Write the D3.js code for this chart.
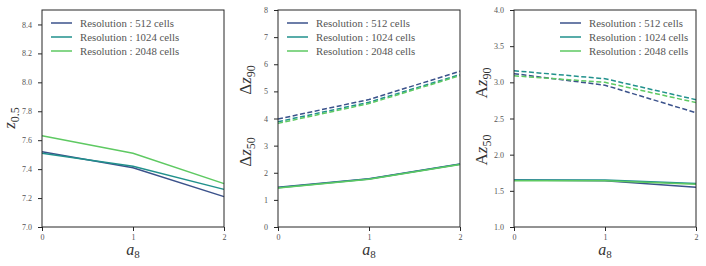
<!DOCTYPE html>
<html>
<head>
<meta charset="utf-8">
<script src="https://cdn.jsdelivr.net/npm/d3@7"></script>
<style>
    body { margin: 0; background: #fff; }
    svg text { font-family: "Liberation Serif", "DejaVu Serif", serif; }
</style>
</head>
<body>
<div id="chart"></div>
<script>
// Data
const xValues = [0, 1, 2];
const resolutions = ["Resolution : 512 cells", "Resolution : 1024 cells", "Resolution : 2048 cells"];
const colors = ["#3b528b", "#21918c", "#5ec962"];

const z05 = [
    [7.52, 7.41, 7.21],
    [7.51, 7.42, 7.26],
    [7.63, 7.51, 7.30]
];
const dz90 = [
    [3.98, 4.70, 5.74],
    [3.88, 4.60, 5.62],
    [3.82, 4.55, 5.58]
];
const dz50 = [
    [1.47, 1.78, 2.32],
    [1.45, 1.77, 2.31],
    [1.44, 1.76, 2.30]
];
const az90 = [
    [3.12, 2.96, 2.58],
    [3.16, 3.05, 2.76],
    [3.09, 3.00, 2.72]
];
const az50 = [
    [1.65, 1.64, 1.55],
    [1.65, 1.65, 1.60],
    [1.64, 1.64, 1.59]
];

const ticks1 = [7.0, 7.2, 7.4, 7.6, 7.8, 8.0, 8.2, 8.4];
const ticks2 = [0, 1, 2, 3, 4, 5, 6, 7, 8];
const ticks3 = [1.0, 1.5, 2.0, 2.5, 3.0, 3.5, 4.0];

const width = 706;
const height = 266;
const plotTop = 10, plotBottom = 227;

const svg = d3.select("#chart")
    .append("svg")
    .attr("width", width)
    .attr("height", height);

const panels = [
    { left: 42, right: 224, domain: [7.0, 8.5], ticks: ticks1, fmt: d3.format(".1f"),
      series: [{ data: z05, dash: null }], legend: "left",
      labels: [{ main: "z", sub: "0.5", prefix: "", y: 118 }] },
    { left: 278, right: 460, domain: [0, 8], ticks: ticks2, fmt: d3.format("d"),
      series: [{ data: dz90, dash: "5,2.5" }, { data: dz50, dash: null }], legend: "left",
      labels: [{ main: "z", sub: "90", prefix: "\u0394", y: 80 }, { main: "z", sub: "50", prefix: "\u0394", y: 152 }] },
    { left: 514, right: 696, domain: [1.0, 4.0], ticks: ticks3, fmt: d3.format(".1f"),
      series: [{ data: az90, dash: "5,2.5" }, { data: az50, dash: null }], legend: "right",
      labels: [{ main: "z", sub: "90", prefix: "A", y: 83 }, { main: "z", sub: "50", prefix: "A", y: 150 }] }
];

panels.forEach(p => {
    const x = d3.scaleLinear().domain([0, 2]).range([p.left, p.right]);
    const y = d3.scaleLinear().domain(p.domain).range([plotBottom, plotTop]);
    const g = svg.append("g");

    const line = d3.line().x((d, i) => x(xValues[i])).y(d => y(d));

    p.series.forEach(s => {
        s.data.forEach((vals, k) => {
            g.append("path")
                .attr("d", line(vals))
                .attr("fill", "none")
                .attr("stroke", colors[k])
                .attr("stroke-width", 1.5)
                .attr("stroke-dasharray", s.dash);
        });
    });

    // frame
    g.append("rect")
        .attr("x", p.left).attr("y", plotTop)
        .attr("width", p.right - p.left).attr("height", plotBottom - plotTop)
        .attr("fill", "none").attr("stroke", "#262626").attr("stroke-width", 1);

    const yAxis = g.append("g")
        .attr("transform", `translate(${p.left},0)`)
        .call(d3.axisLeft(y).tickValues(p.ticks).tickFormat(p.fmt).tickSize(4).tickPadding(6));
    const xAxis = g.append("g")
        .attr("transform", `translate(0,${plotBottom})`)
        .call(d3.axisBottom(x).tickValues(xValues).tickFormat(d3.format("d")).tickSize(4).tickPadding(3));
    [yAxis, xAxis].forEach(a => {
        a.select(".domain").remove();
        a.selectAll("line").attr("stroke", "#262626");
        a.selectAll("text").attr("fill", "#555").style("font-size", "8px")
            .style("font-family", "'Liberation Serif', serif");
    });

    // x label
    const xl = g.append("text")
        .attr("x", (p.left + p.right) / 2).attr("y", 255)
        .attr("text-anchor", "middle")
        .attr("fill", "#333")
        .style("font-size", "16px");
    xl.append("tspan").text("a").style("font-style", "italic");
    xl.append("tspan").text("8").attr("dy", 3).style("font-size", "11px");

    // y labels
    p.labels.forEach(l => {
        const lx = p.left - 27;
        const t = g.append("text")
            .attr("transform", `translate(${lx},${l.y}) rotate(-90)`)
            .attr("text-anchor", "middle")
            .attr("fill", "#333")
            .style("font-size", "17px");
        if (l.prefix) t.append("tspan").text(l.prefix);
        t.append("tspan").text(l.main).style("font-style", "italic");
        t.append("tspan").text(l.sub).attr("dy", 4).style("font-size", "12px");
    });

    // legend
    const lgX = p.legend === "left" ? p.left + 9 : p.left + 46;
    resolutions.forEach((name, k) => {
        const ly = 23 + k * 14;
        g.append("line")
            .attr("x1", lgX).attr("x2", lgX + 21)
            .attr("y1", ly).attr("y2", ly)
            .attr("stroke", colors[k]).attr("stroke-width", 1.5);
        g.append("text")
            .attr("x", lgX + 29).attr("y", ly + 3.5)
            .attr("fill", "#555")
            .style("font-family", "'Liberation Serif', serif")
            .style("font-size", "10.8px")
            .text(name);
    });
});
</script>
</body>
</html>
